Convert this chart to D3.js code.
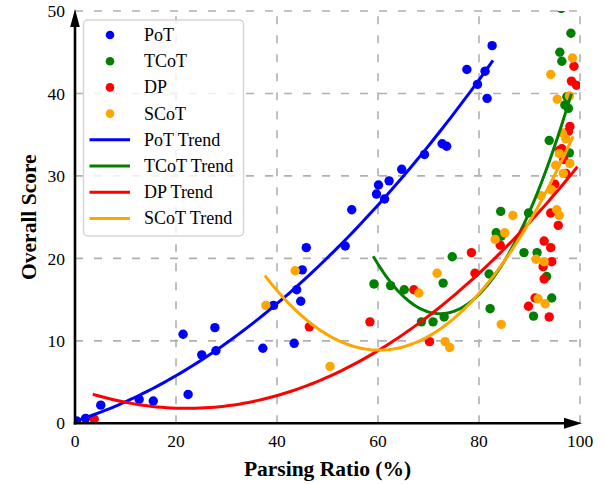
<!DOCTYPE html>
<html>
<head>
<meta charset="utf-8">
<script src="https://cdn.jsdelivr.net/npm/d3@7"></script>
<style>
body { margin: 0; background: #fff; }
text { font-family: "Liberation Serif", "Times New Roman", serif; }
</style>
</head>
<body>
<div id="chart"></div>
<script>
// Size of the page and the plot box inside it
let w = 604;
let h = 484;
let padLeft = 75;
let padRight = 580;
let padTop = 11;
let padBottom = 423.3;

// Points: [parsing ratio %, overall score]
let potPoints = [[0.3, 0.3], [2.1, 0.6], [5.1, 2.2], [12.7, 2.9], [15.5, 2.7], [21.4, 10.8], [22.4, 3.5],
    [25.1, 8.3], [27.7, 11.6], [27.9, 8.8], [37.2, 9.1], [39.3, 14.3], [43.4, 9.7], [43.9, 16.2],
    [44.7, 14.8], [45.0, 18.6], [45.8, 21.3], [53.5, 21.5], [54.8, 25.9], [59.7, 27.8], [60.1, 28.9],
    [61.3, 27.2], [62.2, 29.4], [64.7, 30.8], [69.2, 32.6], [72.7, 33.9], [73.6, 33.6], [77.6, 42.9],
    [79.7, 41.1], [81.2, 42.7], [81.6, 39.4], [82.6, 45.8]];
let tcotPoints = [[59.2, 16.9], [62.5, 16.7], [65.2, 16.2], [68.6, 12.3], [70.9, 12.3], [72.9, 17.0],
    [73.1, 12.9], [74.7, 20.2], [82.0, 18.1], [82.2, 13.9], [83.4, 23.1], [84.4, 22.7], [84.3, 25.7],
    [88.9, 20.7], [89.8, 25.5], [90.8, 13.0], [91.5, 20.7], [93.4, 17.8], [94.4, 15.2], [93.9, 34.3],
    [97.9, 32.8], [97.0, 38.6], [97.7, 38.2], [97.4, 39.6], [96.4, 43.9], [96.0, 45.0], [98.2, 47.3],
    [96.3, 50.3]];
let dpPoints = [[3.8, 0.5], [46.4, 11.7], [58.4, 12.3], [67.1, 16.2], [70.2, 9.9], [78.5, 20.7],
    [79.2, 18.2], [84.2, 21.6], [89.8, 14.2], [91.1, 15.2], [92.7, 19.0], [92.9, 17.5], [92.9, 22.1],
    [93.9, 12.9], [94.2, 21.3], [94.4, 19.6], [94.2, 25.5], [95.7, 24.0], [95.0, 29.0], [97.2, 30.3],
    [96.4, 33.3], [95.9, 33.1], [96.8, 32.0], [97.7, 35.4], [98.0, 36.0], [98.3, 41.5], [99.3, 41.0],
    [98.8, 43.3]];
let scotPoints = [[37.8, 14.3], [43.6, 18.5], [50.5, 6.9], [68.1, 15.8], [71.7, 18.2], [73.3, 9.9],
    [74.2, 9.2], [83.2, 22.3], [85.1, 23.1], [84.4, 12.0], [86.7, 25.2], [91.3, 19.9], [92.9, 19.6],
    [91.7, 15.1], [93.1, 14.5], [92.3, 27.6], [94.4, 28.3], [95.4, 25.9], [95.9, 25.2], [95.2, 31.3],
    [95.9, 32.7], [96.7, 30.3], [98.0, 31.5], [96.5, 35.2], [97.2, 34.5], [95.5, 39.3], [97.9, 39.7],
    [94.2, 42.3], [98.5, 44.3]];

let seriesNames = ["PoT", "TCoT", "DP", "SCoT"];
let seriesColors = ["#0000ff", "#008000", "#ff0000", "#ffa500"];
let seriesPoints = [potPoints, tcotPoints, dpPoints, scotPoints];
let xTicks = [0, 20, 40, 60, 80, 100];
let yTicks = [0, 10, 20, 30, 40, 50];

// Least squares fit of a second degree polynomial, returns [c0, c1, c2]
let polyfit2 = (pts) => {
    let s = [0, 0, 0, 0, 0];
    let t = [0, 0, 0];
    pts.forEach(p => {
        for (let k = 0; k < 5; k++) s[k] += Math.pow(p[0], k);
        for (let k = 0; k < 3; k++) t[k] += p[1] * Math.pow(p[0], k);
    });
    let A = [[s[0], s[1], s[2], t[0]], [s[1], s[2], s[3], t[1]], [s[2], s[3], s[4], t[2]]];
    for (let i = 0; i < 3; i++) {
        for (let j = i + 1; j < 3; j++) {
            let f = A[j][i] / A[i][i];
            for (let k = i; k < 4; k++) A[j][k] -= f * A[i][k];
        }
    }
    let c = [0, 0, 0];
    for (let i = 2; i >= 0; i--) {
        let v = A[i][3];
        for (let k = i + 1; k < 3; k++) v -= A[i][k] * c[k];
        c[i] = v / A[i][i];
    }
    return c;
}

let xScale = d3.scaleLinear().domain([0, 100]).range([padLeft, padRight]);
let yScale = d3.scaleLinear().domain([0, 50]).range([padBottom, padTop]);

let svg = d3.select("#chart").append("svg")
    .attr("width", w)
    .attr("height", h);

svg.append("defs").append("clipPath").attr("id", "plotClip")
    .append("rect")
    .attr("x", padLeft)
    .attr("y", padTop)
    .attr("width", padRight - padLeft)
    .attr("height", padBottom - padTop);

// Dashed grid
let grid = svg.append("g").attr("stroke", "#b0b0b0").attr("stroke-width", 1.6).attr("stroke-dasharray", "8,11");
grid.selectAll(".vgrid")
    .data(xTicks.slice(1))
    .enter()
    .append("line")
    .attr("x1", d => xScale(d))
    .attr("x2", d => xScale(d))
    .attr("y1", padBottom)
    .attr("y2", padTop);
grid.selectAll(".hgrid")
    .data(yTicks.slice(1))
    .enter()
    .append("line")
    .attr("x1", padLeft)
    .attr("x2", padRight)
    .attr("y1", d => yScale(d))
    .attr("y2", d => yScale(d));

let plot = svg.append("g").attr("clip-path", "url(#plotClip)");

// Scatter points, one group per method
seriesPoints.forEach((pts, i) => {
    plot.append("g")
        .selectAll("circle")
        .data(pts)
        .enter()
        .append("circle")
        .attr("cx", d => xScale(d[0]))
        .attr("cy", d => yScale(d[1]))
        .attr("r", 4.7)
        .attr("fill", seriesColors[i]);
});

// Trend lines fitted on each series, drawn over the points
let line = d3.line().x(d => xScale(d[0])).y(d => yScale(d[1]));
seriesPoints.forEach((pts, i) => {
    let c = polyfit2(pts);
    let ext = d3.extent(pts, d => d[0]);
    let curve = d3.range(0, 101).map(k => {
        let x = ext[0] + (ext[1] - ext[0]) * k / 100;
        return [x, c[0] + c[1] * x + c[2] * x * x];
    });
    plot.append("path")
        .datum(curve)
        .attr("d", line)
        .attr("fill", "none")
        .attr("stroke", seriesColors[i])
        .attr("stroke-width", 3)
        .attr("stroke-linecap", "square");
});

// Axes with arrow heads
let axes = svg.append("g");
axes.append("line")
    .attr("x1", padLeft).attr("x2", padLeft)
    .attr("y1", padBottom + 1.3).attr("y2", padTop + 8)
    .attr("stroke", "#000").attr("stroke-width", 2.6);
axes.append("line")
    .attr("x1", padLeft - 1.3).attr("x2", padRight - 6)
    .attr("y1", padBottom).attr("y2", padBottom)
    .attr("stroke", "#000").attr("stroke-width", 2.6);
axes.append("path")
    .attr("d", `M${padLeft},${padTop - 2} L${padLeft - 4.8},${padTop + 16} L${padLeft + 4.8},${padTop + 16} Z`)
    .attr("fill", "#000");
axes.append("path")
    .attr("d", `M${padRight + 2},${padBottom} L${padRight - 16},${padBottom - 5.5} L${padRight - 16},${padBottom + 5.5} Z`)
    .attr("fill", "#000");

// Tick labels
svg.selectAll(".xtick")
    .data(xTicks)
    .enter()
    .append("text")
    .attr("x", d => xScale(d))
    .attr("y", 447)
    .attr("text-anchor", "middle")
    .attr("font-size", "17.5px")
    .text(d => d);
svg.selectAll(".ytick")
    .data(yTicks)
    .enter()
    .append("text")
    .attr("x", 65)
    .attr("y", d => yScale(d))
    .attr("dy", "0.35em")
    .attr("text-anchor", "end")
    .attr("font-size", "17.5px")
    .text(d => d);

// Axis titles
svg.append("text")
    .text("Parsing Ratio (%)")
    .attr("x", (padLeft + padRight) / 2)
    .attr("y", 476)
    .attr("text-anchor", "middle")
    .attr("font-size", "21.5px")
    .attr("font-weight", "bold");
svg.append("text")
    .text("Overall Score")
    .attr("transform", `translate(36, ${(padTop + padBottom) / 2}) rotate(-90)`)
    .attr("text-anchor", "middle")
    .attr("font-size", "21.5px")
    .attr("font-weight", "bold");

// Legend
let legend = svg.append("g");
legend.append("rect")
    .attr("x", 83.5)
    .attr("y", 20)
    .attr("width", 160)
    .attr("height", 216)
    .attr("rx", 4)
    .attr("fill", "#fff")
    .attr("fill-opacity", 0.8)
    .attr("stroke", "#d4d4d4")
    .attr("stroke-width", 1.4);
let legendItems = seriesNames.map((n, i) => ({ label: n, color: seriesColors[i], kind: "dot" }))
    .concat(seriesNames.map((n, i) => ({ label: n + " Trend", color: seriesColors[i], kind: "line" })));
legendItems.forEach((d, i) => {
    let y = 35 + i * 26.2;
    if (d.kind === "dot") {
        legend.append("circle").attr("cx", 110).attr("cy", y).attr("r", 4.3).attr("fill", d.color);
    } else {
        legend.append("line")
            .attr("x1", 89.5).attr("x2", 130)
            .attr("y1", y).attr("y2", y)
            .attr("stroke", d.color).attr("stroke-width", 3);
    }
    legend.append("text")
        .attr("x", 144)
        .attr("y", y)
        .attr("dy", "0.33em")
        .attr("font-size", "18px")
        .text(d.label);
});
</script>
</body>
</html>
